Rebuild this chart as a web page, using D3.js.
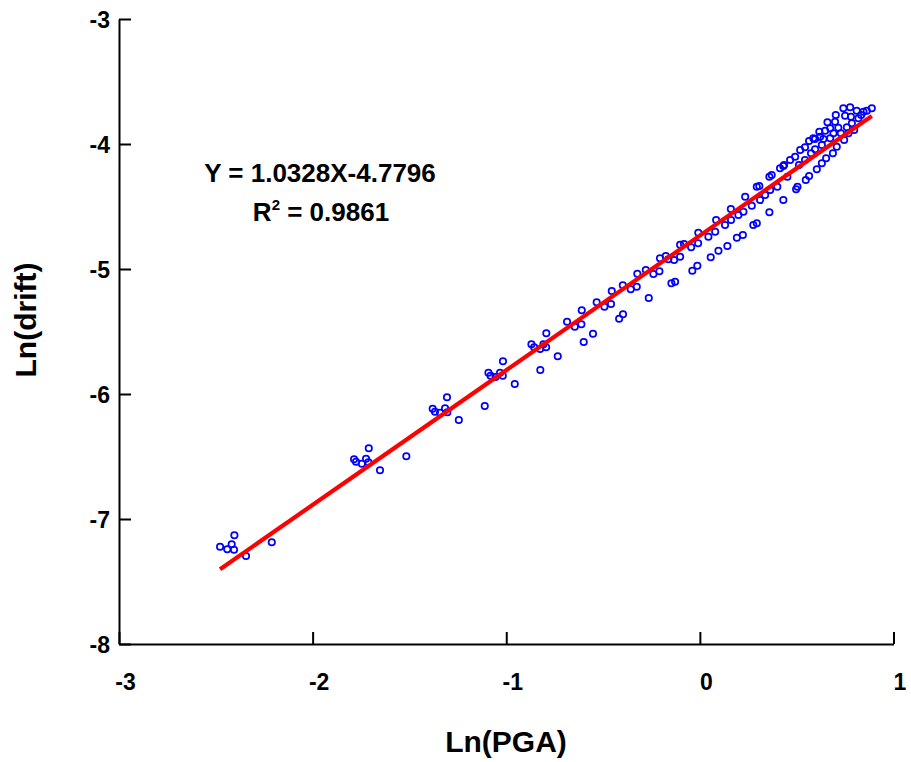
<!DOCTYPE html>
<html>
<head>
<meta charset="utf-8">
<script src="https://cdn.jsdelivr.net/npm/d3@7"></script>
<style>
  html, body { margin: 0; padding: 0; background: #fff; }
  svg { display: block; }
  text { font-family: "Liberation Sans", Arial, sans-serif; font-weight: bold; fill: #000; }
</style>
</head>
<body>
<script>
// Observed data: Ln(PGA) vs Ln(drift)
const lnPGA = [
  -2.478,-2.441,-2.418,-2.404,-2.406,-2.344,-2.211,
  -1.786,-1.776,-1.746,-1.724,-1.710,-1.712,-1.652,-1.516,
  -1.380,-1.368,-1.342,-1.316,-1.306,-1.304,-1.245,-1.111,
  -1.092,-1.081,-1.055,-1.032,-1.017,-1.018,-0.956,
  -0.870,-0.856,-0.825,-0.824,-0.808,-0.793,-0.794,-0.734,-0.686,-0.646,
  -0.612,-0.610,-0.600,-0.552,-0.533,-0.493,-0.459,-0.455,-0.417,-0.397,
  -0.398,-0.357,-0.326,-0.323,-0.279,-0.264,-0.240,-0.209,-0.206,-0.176,
  -0.163,-0.147,-0.128,-0.133,-0.102,-0.102,-0.082,-0.045,-0.039,-0.013,
  -0.009,-0.008,
  0.044,0.079,0.084,0.130,0.161,0.160,0.199,0.225,0.234,0.268,
  0.294,0.307,0.311,0.337,0.359,0.371,0.363,0.400,0.414,0.431,
  0.452,0.466,0.492,0.512,0.518,0.543,0.543,0.564,0.574,0.595,
  0.595,0.617,0.630,0.638,0.647,0.659,0.673,0.690,0.702,0.715,
  0.728,0.741,0.750,0.759,0.776,0.780,0.785,0.810,0.819,0.845,
  0.862,0.888,
  0.586,0.621,0.673,0.698,0.833,0.435,
  0.056,0.096,0.142,0.191,0.222,0.276,0.294,0.359,0.431,0.497,
  0.504,0.547,0.564,0.604,0.630,0.652,0.687,0.707,0.745,0.767,0.797
];
const lnDrift = [
  -7.222,-7.242,-7.202,-7.130,-7.246,-7.296,-7.186,
  -6.522,-6.542,-6.558,-6.518,-6.434,-6.546,-6.610,-6.498,
  -6.118,-6.142,-6.150,-6.114,-6.026,-6.146,-6.208,-6.096,
  -5.830,-5.854,-5.864,-5.830,-5.738,-5.854,-5.920,
  -5.602,-5.626,-5.640,-5.808,-5.602,-5.514,-5.626,-5.698,-5.422,-5.462,
  -5.442,-5.330,-5.584,-5.518,-5.266,-5.302,-5.280,-5.176,-5.398,-5.362,
  -5.130,-5.162,-5.142,-5.038,-5.008,-5.232,-5.040,-5.018,-4.914,-4.896,
  -4.922,-5.114,-5.102,-4.928,-4.902,-4.806,-4.800,-4.826,-5.014,-4.974,
  -4.794,-4.710,
  -4.742,-4.702,-4.608,-4.648,-4.608,-4.520,-4.568,-4.542,-4.422,-4.494,
  -4.342,-4.336,-4.448,-4.408,-4.262,-4.248,-4.368,-4.342,-4.194,-4.176,
  -4.262,-4.128,-4.102,-4.168,-4.048,-4.026,-4.128,-3.976,-4.074,-4.042,
  -3.960,-3.902,-4.008,-3.960,-3.894,-3.826,-3.954,-3.914,-3.768,-3.870,
  -3.914,-3.714,-3.774,-3.866,-3.706,-3.782,-3.834,-3.734,-3.794,-3.742,
  -3.734,-3.714,
  -3.954,-3.942,-3.874,-3.822,-3.768,-4.168,
  -4.906,-4.854,-4.816,-4.750,-4.728,-4.648,-4.634,-4.546,-4.448,-4.362,
  -4.342,-4.288,-4.256,-4.202,-4.154,-4.114,-4.074,-4.022,-3.968,-3.914,-3.888
];
// Fitted line as drawn (end points)
const fitX = [-2.478, 0.888];
const fitY = [-7.402, -3.776];
const xTicks = [-3, -2, -1, 0, 1];
const yTicks = [-3, -4, -5, -6, -7, -8];
const eqText = "Y = 1.0328X-4.7796";
const r2Value = "0.9861";
const xTitle = "Ln(PGA)";
const yTitle = "Ln(drift)";

const W = 911, H = 762;
const svg = d3.select("body").append("svg").attr("width", W).attr("height", H);

const x = d3.scaleLinear().domain([-3, 1]).range([119, 893.5]);
const y = d3.scaleLinear().domain([-8, -3]).range([644, 19]);

const fmt = d => String(d);
const xAxis = d3.axisBottom(x).tickValues(xTicks).tickSizeInner(-12).tickSizeOuter(0).tickPadding(0).tickFormat(fmt);
const yAxis = d3.axisLeft(y).tickValues(yTicks).tickSizeInner(-12).tickSizeOuter(0).tickPadding(0).tickFormat(fmt);

const gx = svg.append("g").attr("transform", `translate(0,${y(-8)})`).call(xAxis);
const gy = svg.append("g").attr("transform", `translate(${x(-3)},0)`).call(yAxis);

[gx, gy].forEach(g => {
  g.select(".domain").attr("stroke", "#000").attr("stroke-width", 2);
  g.selectAll(".tick line").attr("stroke", "#000").attr("stroke-width", 2);
  g.selectAll(".tick text").attr("font-size", 23).attr("font-family", "Liberation Sans, Arial, sans-serif").attr("font-weight", "bold").attr("fill", "#000");
});
gx.selectAll(".tick text").attr("dy", null).attr("y", 46).attr("dx", 6).attr("text-anchor", "middle");
gy.selectAll(".tick text").attr("x", -9).attr("dy", "0.36em").attr("text-anchor", "end");

// points
svg.append("g").selectAll("circle")
  .data(lnPGA.map((v, i) => [v, lnDrift[i]]))
  .join("circle")
  .attr("cx", d => x(d[0]))
  .attr("cy", d => y(d[1]))
  .attr("r", 3.2)
  .attr("fill", "none")
  .attr("stroke", "#0000ff")
  .attr("stroke-width", 1.7);

// fitted line
svg.append("path")
  .datum(fitX.map((v, i) => [v, fitY[i]]))
  .attr("d", d3.line().x(d => x(d[0])).y(d => y(d[1])))
  .attr("stroke", "#ff0000")
  .attr("stroke-width", 4.2)
  .attr("fill", "none");

// equation
svg.append("text").attr("x", 320).attr("y", 182).attr("text-anchor", "middle")
  .attr("font-size", 26).text(eqText);
const r2 = svg.append("text").attr("x", 321).attr("y", 221).attr("text-anchor", "middle").attr("font-size", 26);
r2.append("tspan").text("R");
r2.append("tspan").attr("font-size", 15).attr("dy", -11).text("2");
r2.append("tspan").attr("dy", 11).text(" = " + r2Value);

// axis titles
svg.append("text").attr("x", 506).attr("y", 752).attr("text-anchor", "middle")
  .attr("font-size", 30).text(xTitle);
svg.append("text").attr("transform", `translate(36,320) rotate(-90)`).attr("text-anchor", "middle")
  .attr("font-size", 30).text(yTitle);
</script>
</body>
</html>
